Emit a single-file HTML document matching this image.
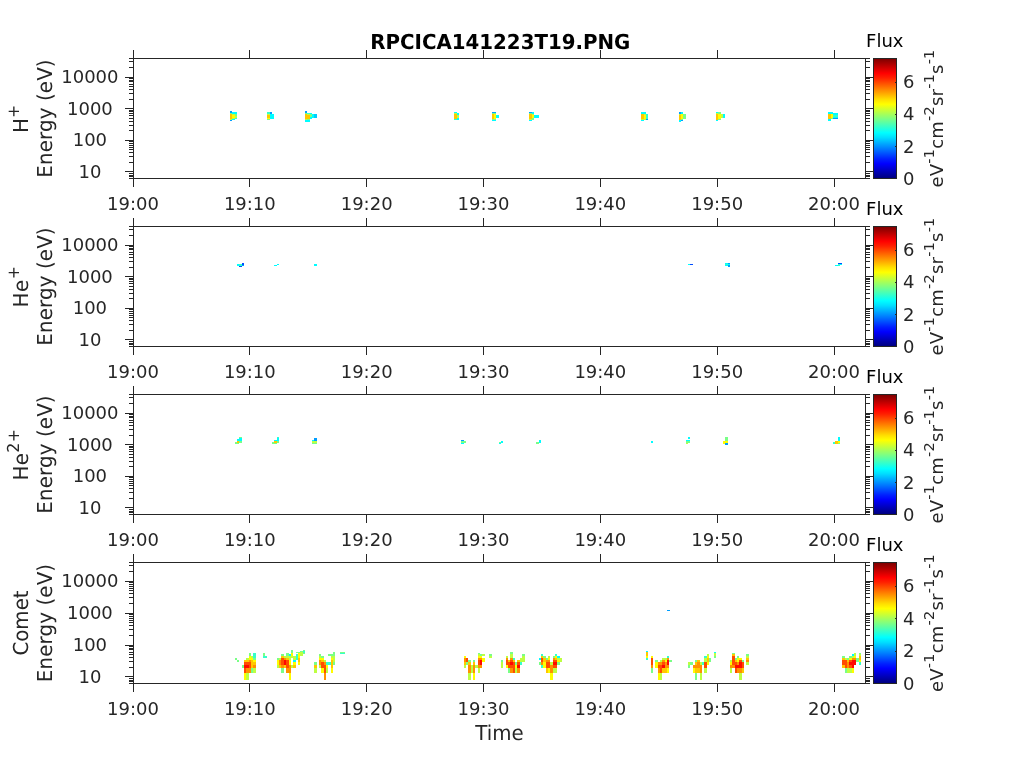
<!DOCTYPE html>
<html><head><meta charset="utf-8"><title>RPCICA141223T19</title>
<style>
html,body{margin:0;padding:0;background:#fff;}
body{width:1024px;height:768px;overflow:hidden;}
svg{display:block;position:absolute;left:0;top:0;}
text{font-family:"DejaVu Sans","Liberation Sans",sans-serif;}
</style></head><body>
<svg width="1024" height="768" viewBox="0 0 1024 768">
<defs><linearGradient id="jet" x1="0" y1="1" x2="0" y2="0"><stop offset="0" stop-color="#000080"/><stop offset="0.03" stop-color="#00009f"/><stop offset="0.06" stop-color="#0000bf"/><stop offset="0.09" stop-color="#0000df"/><stop offset="0.12" stop-color="#0000ff"/><stop offset="0.16" stop-color="#0020ff"/><stop offset="0.19" stop-color="#0040ff"/><stop offset="0.22" stop-color="#0060ff"/><stop offset="0.25" stop-color="#0080ff"/><stop offset="0.28" stop-color="#009fff"/><stop offset="0.31" stop-color="#00bfff"/><stop offset="0.34" stop-color="#00dfff"/><stop offset="0.38" stop-color="#00ffff"/><stop offset="0.41" stop-color="#20ffdf"/><stop offset="0.44" stop-color="#40ffbf"/><stop offset="0.47" stop-color="#60ff9f"/><stop offset="0.5" stop-color="#80ff80"/><stop offset="0.53" stop-color="#9fff60"/><stop offset="0.56" stop-color="#bfff40"/><stop offset="0.59" stop-color="#dfff20"/><stop offset="0.62" stop-color="#ffff00"/><stop offset="0.66" stop-color="#ffdf00"/><stop offset="0.69" stop-color="#ffbf00"/><stop offset="0.72" stop-color="#ff9f00"/><stop offset="0.75" stop-color="#ff8000"/><stop offset="0.78" stop-color="#ff6000"/><stop offset="0.81" stop-color="#ff4000"/><stop offset="0.84" stop-color="#ff2000"/><stop offset="0.88" stop-color="#ff0000"/><stop offset="0.91" stop-color="#df0000"/><stop offset="0.94" stop-color="#bf0000"/><stop offset="0.97" stop-color="#9f0000"/><stop offset="1" stop-color="#800000"/></linearGradient></defs>
<rect width="1024" height="768" fill="#fff"/>
<g shape-rendering="crispEdges">
<rect x="230.08" y="111" width="2.34" height="1.5" fill="#009eff"/>
<rect x="230.08" y="112.5" width="2.34" height="1.5" fill="#79ff86"/>
<rect x="230.08" y="114" width="2.34" height="5" fill="#ffc700"/>
<rect x="230.08" y="119" width="2.34" height="1" fill="#bdff42"/>
<rect x="230.08" y="120" width="2.34" height="1" fill="#009eff"/>
<rect x="232.42" y="112.3" width="2.34" height="1.7" fill="#00fdff"/>
<rect x="232.42" y="114" width="2.34" height="1" fill="#bdff42"/>
<rect x="232.42" y="115" width="2.34" height="3" fill="#fffd00"/>
<rect x="232.42" y="118" width="2.34" height="1" fill="#bdff42"/>
<rect x="232.42" y="119" width="2.34" height="1.2" fill="#00fdff"/>
<rect x="234.75" y="112.3" width="2.34" height="1.7" fill="#00fdff"/>
<rect x="234.75" y="114" width="2.34" height="1.5" fill="#79ff86"/>
<rect x="234.75" y="115.5" width="2.34" height="2" fill="#bdff42"/>
<rect x="234.75" y="117.5" width="2.34" height="1.5" fill="#35ffca"/>
<rect x="267.47" y="112" width="2.34" height="1.5" fill="#35ffca"/>
<rect x="267.47" y="113.5" width="2.34" height="1" fill="#bdff42"/>
<rect x="267.47" y="114.5" width="2.34" height="3.5" fill="#ffc700"/>
<rect x="267.47" y="118" width="2.34" height="1" fill="#fffd00"/>
<rect x="267.47" y="119" width="2.34" height="0.8" fill="#79ff86"/>
<rect x="269.8" y="112" width="2.34" height="2" fill="#009eff"/>
<rect x="269.8" y="114" width="2.34" height="4.5" fill="#00fdff"/>
<rect x="272.14" y="114" width="2.34" height="5" fill="#00fdff"/>
<rect x="304.85" y="111" width="2.34" height="1.5" fill="#009eff"/>
<rect x="304.85" y="112.5" width="2.34" height="1" fill="#79ff86"/>
<rect x="304.85" y="113.5" width="2.34" height="5.5" fill="#ffc700"/>
<rect x="304.85" y="119" width="2.34" height="0.8" fill="#bdff42"/>
<rect x="304.85" y="119.8" width="2.34" height="2.2" fill="#00fdff"/>
<rect x="307.19" y="112.5" width="2.34" height="1" fill="#35ffca"/>
<rect x="307.19" y="113.5" width="2.34" height="1" fill="#bdff42"/>
<rect x="307.19" y="114.5" width="2.34" height="4.5" fill="#ffc700"/>
<rect x="307.19" y="119" width="2.34" height="1" fill="#79ff86"/>
<rect x="307.19" y="120" width="2.34" height="2" fill="#00fdff"/>
<rect x="309.53" y="112.5" width="2.34" height="1.5" fill="#00fdff"/>
<rect x="309.53" y="114" width="2.34" height="3" fill="#79ff86"/>
<rect x="309.53" y="117" width="2.34" height="2" fill="#00fdff"/>
<rect x="311.86" y="113.5" width="2.34" height="4" fill="#00fdff"/>
<rect x="314.2" y="114" width="2.34" height="3.5" fill="#00ceff"/>
<rect x="454.4" y="112" width="2.34" height="1" fill="#00fdff"/>
<rect x="454.4" y="113" width="2.34" height="1" fill="#bdff42"/>
<rect x="454.4" y="114" width="2.34" height="4.5" fill="#ffc700"/>
<rect x="454.4" y="118.5" width="2.34" height="0.8" fill="#bdff42"/>
<rect x="454.4" y="119.3" width="2.34" height="0.7" fill="#35ffca"/>
<rect x="456.74" y="113" width="2.34" height="1.5" fill="#00fdff"/>
<rect x="456.74" y="114.5" width="2.34" height="3" fill="#bdff42"/>
<rect x="456.74" y="117.5" width="2.34" height="2.5" fill="#00fdff"/>
<rect x="491.79" y="112" width="2.34" height="1" fill="#009eff"/>
<rect x="491.79" y="113" width="2.34" height="1" fill="#79ff86"/>
<rect x="491.79" y="114" width="2.34" height="5" fill="#ffc700"/>
<rect x="491.79" y="119" width="2.34" height="1" fill="#79ff86"/>
<rect x="491.79" y="120" width="2.34" height="1" fill="#00fdff"/>
<rect x="494.13" y="112" width="2.34" height="1" fill="#009eff"/>
<rect x="494.13" y="113" width="2.34" height="1" fill="#79ff86"/>
<rect x="494.13" y="114" width="2.34" height="5" fill="#fffd00"/>
<rect x="494.13" y="119" width="2.34" height="1" fill="#79ff86"/>
<rect x="494.13" y="120" width="2.34" height="1" fill="#00fdff"/>
<rect x="496.46" y="115" width="2.34" height="3" fill="#00fdff"/>
<rect x="529.18" y="112" width="2.34" height="1" fill="#009eff"/>
<rect x="529.18" y="113" width="2.34" height="1" fill="#79ff86"/>
<rect x="529.18" y="114" width="2.34" height="5" fill="#ffc700"/>
<rect x="529.18" y="119" width="2.34" height="1" fill="#bdff42"/>
<rect x="529.18" y="120" width="2.34" height="1" fill="#00fdff"/>
<rect x="531.51" y="112" width="2.34" height="1.5" fill="#00fdff"/>
<rect x="531.51" y="113.5" width="2.34" height="1" fill="#bdff42"/>
<rect x="531.51" y="114.5" width="2.34" height="3.5" fill="#fffd00"/>
<rect x="531.51" y="118" width="2.34" height="1.5" fill="#79ff86"/>
<rect x="533.85" y="115" width="2.34" height="2.5" fill="#00fdff"/>
<rect x="536.19" y="115" width="2.34" height="2.5" fill="#00fdff"/>
<rect x="641.34" y="112" width="2.34" height="1.5" fill="#00fdff"/>
<rect x="641.34" y="113.5" width="2.34" height="5.5" fill="#ffc700"/>
<rect x="641.34" y="119" width="2.34" height="0.8" fill="#bdff42"/>
<rect x="641.34" y="119.8" width="2.34" height="1.2" fill="#00fdff"/>
<rect x="643.68" y="112" width="2.34" height="1.5" fill="#00fdff"/>
<rect x="643.68" y="113.5" width="2.34" height="1" fill="#bdff42"/>
<rect x="643.68" y="114.5" width="2.34" height="4" fill="#fffd00"/>
<rect x="643.68" y="118.5" width="2.34" height="1" fill="#bdff42"/>
<rect x="646.01" y="114" width="2.34" height="4.5" fill="#35ffca"/>
<rect x="646.01" y="118.5" width="2.34" height="1.5" fill="#009eff"/>
<rect x="678.73" y="112" width="2.34" height="1.5" fill="#009eff"/>
<rect x="678.73" y="113.5" width="2.34" height="1" fill="#bdff42"/>
<rect x="678.73" y="114.5" width="2.34" height="5.5" fill="#ffc700"/>
<rect x="678.73" y="120" width="2.34" height="2" fill="#00fdff"/>
<rect x="681.06" y="112" width="2.34" height="1.5" fill="#00fdff"/>
<rect x="681.06" y="113.5" width="2.34" height="5.5" fill="#fffd00"/>
<rect x="681.06" y="119" width="2.34" height="0.7" fill="#79ff86"/>
<rect x="681.06" y="119.7" width="2.34" height="1.3" fill="#009eff"/>
<rect x="683.4" y="114" width="2.34" height="5" fill="#79ff86"/>
<rect x="716.11" y="112" width="2.34" height="1" fill="#00fdff"/>
<rect x="716.11" y="113" width="2.34" height="1" fill="#bdff42"/>
<rect x="716.11" y="114" width="2.34" height="5.5" fill="#ffc700"/>
<rect x="716.11" y="119.5" width="2.34" height="1.5" fill="#00fdff"/>
<rect x="718.45" y="112" width="2.34" height="1.5" fill="#79ff86"/>
<rect x="718.45" y="113.5" width="2.34" height="5.5" fill="#fffd00"/>
<rect x="718.45" y="119" width="2.34" height="1" fill="#79ff86"/>
<rect x="720.79" y="113.5" width="2.34" height="4.5" fill="#bdff42"/>
<rect x="723.12" y="114" width="2.34" height="4" fill="#00fdff"/>
<rect x="828.27" y="112" width="2.34" height="1.5" fill="#00fdff"/>
<rect x="828.27" y="113.5" width="2.34" height="0.7" fill="#bdff42"/>
<rect x="828.27" y="114.2" width="2.34" height="4.8" fill="#ffc700"/>
<rect x="828.27" y="119" width="2.34" height="2" fill="#00fdff"/>
<rect x="830.61" y="112" width="2.34" height="1.5" fill="#00fdff"/>
<rect x="830.61" y="113.5" width="2.34" height="4.5" fill="#fffd00"/>
<rect x="830.61" y="118" width="2.34" height="1" fill="#79ff86"/>
<rect x="832.95" y="113" width="2.34" height="1.5" fill="#00fdff"/>
<rect x="832.95" y="114.5" width="2.34" height="2.5" fill="#35ffca"/>
<rect x="832.95" y="117" width="2.34" height="1" fill="#00fdff"/>
<rect x="832.95" y="118" width="2.34" height="1" fill="#009eff"/>
<rect x="835.29" y="113" width="2.34" height="1.5" fill="#00fdff"/>
<rect x="835.29" y="114.5" width="2.34" height="2.5" fill="#35ffca"/>
<rect x="835.29" y="117" width="2.34" height="1" fill="#00fdff"/>
<rect x="835.29" y="118" width="2.34" height="1" fill="#009eff"/>
<rect x="237.09" y="264" width="2.34" height="1.5" fill="#00fdff"/>
<rect x="239.43" y="264" width="2.34" height="1.5" fill="#35ffca"/>
<rect x="239.43" y="265.5" width="2.34" height="1.5" fill="#004dff"/>
<rect x="241.76" y="263" width="2.34" height="1.5" fill="#004dff"/>
<rect x="241.76" y="264.5" width="2.34" height="1.5" fill="#009eff"/>
<rect x="274.48" y="265" width="2.34" height="1.2" fill="#00fdff"/>
<rect x="276.81" y="264" width="2.34" height="1.2" fill="#00fdff"/>
<rect x="314.2" y="264" width="2.34" height="2" fill="#00fdff"/>
<rect x="688.07" y="263.8" width="2.34" height="1.4" fill="#00fdff"/>
<rect x="690.41" y="263.8" width="2.34" height="1.4" fill="#004dff"/>
<rect x="725.46" y="263" width="2.34" height="1" fill="#00fdff"/>
<rect x="725.46" y="264" width="2.34" height="1" fill="#35ffca"/>
<rect x="725.46" y="265" width="2.34" height="1" fill="#00fdff"/>
<rect x="727.8" y="263" width="2.34" height="1" fill="#009eff"/>
<rect x="727.8" y="264" width="2.34" height="1" fill="#00fdff"/>
<rect x="727.8" y="265" width="2.34" height="2" fill="#009eff"/>
<rect x="835.29" y="264.5" width="2.34" height="1.5" fill="#00fdff"/>
<rect x="837.62" y="263" width="2.34" height="1" fill="#004dff"/>
<rect x="837.62" y="264" width="2.34" height="1.5" fill="#35ffca"/>
<rect x="837.62" y="265.5" width="2.34" height="0.5" fill="#00fdff"/>
<rect x="839.96" y="263" width="2.34" height="1" fill="#004dff"/>
<rect x="839.96" y="264" width="2.34" height="1" fill="#00fdff"/>
<rect x="234.75" y="441.5" width="2.34" height="2.5" fill="#79ff86"/>
<rect x="237.09" y="439" width="2.34" height="2" fill="#00fdff"/>
<rect x="237.09" y="441" width="2.34" height="2" fill="#ffc700"/>
<rect x="237.09" y="443" width="2.34" height="1" fill="#79ff86"/>
<rect x="239.43" y="437" width="2.34" height="1" fill="#79ff86"/>
<rect x="239.43" y="438" width="2.34" height="3" fill="#00fdff"/>
<rect x="239.43" y="441" width="2.34" height="2" fill="#79ff86"/>
<rect x="272.14" y="441.5" width="2.34" height="2.5" fill="#79ff86"/>
<rect x="274.48" y="439.5" width="2.34" height="1.5" fill="#00fdff"/>
<rect x="274.48" y="441" width="2.34" height="2" fill="#ffc700"/>
<rect x="274.48" y="443" width="2.34" height="1" fill="#79ff86"/>
<rect x="276.81" y="437" width="2.34" height="1" fill="#35ffca"/>
<rect x="276.81" y="438" width="2.34" height="3" fill="#00fdff"/>
<rect x="276.81" y="441" width="2.34" height="2" fill="#79ff86"/>
<rect x="311.86" y="440" width="2.34" height="1" fill="#00fdff"/>
<rect x="311.86" y="441" width="2.34" height="2" fill="#bdff42"/>
<rect x="311.86" y="443" width="2.34" height="1" fill="#79ff86"/>
<rect x="314.2" y="438" width="2.34" height="2.5" fill="#009eff"/>
<rect x="314.2" y="440.5" width="2.34" height="2.5" fill="#bdff42"/>
<rect x="314.2" y="443" width="2.34" height="1" fill="#79ff86"/>
<rect x="461.41" y="440" width="2.34" height="1" fill="#009eff"/>
<rect x="461.41" y="441" width="2.34" height="2" fill="#79ff86"/>
<rect x="461.41" y="443" width="2.34" height="1" fill="#00fdff"/>
<rect x="463.75" y="440.5" width="2.34" height="2.5" fill="#79ff86"/>
<rect x="498.8" y="441.5" width="2.34" height="1.5" fill="#79ff86"/>
<rect x="498.8" y="443" width="2.34" height="1" fill="#00fdff"/>
<rect x="501.14" y="441" width="2.34" height="1.5" fill="#00fdff"/>
<rect x="536.19" y="441.5" width="2.34" height="2.5" fill="#79ff86"/>
<rect x="538.52" y="440" width="2.34" height="3" fill="#00fdff"/>
<rect x="650.69" y="441.3" width="2.34" height="1.7" fill="#00fdff"/>
<rect x="685.74" y="440" width="2.34" height="1" fill="#00fdff"/>
<rect x="685.74" y="441" width="2.34" height="2" fill="#79ff86"/>
<rect x="685.74" y="443" width="2.34" height="1" fill="#bdff42"/>
<rect x="688.07" y="437" width="2.34" height="1.5" fill="#00fdff"/>
<rect x="688.07" y="440" width="2.34" height="1" fill="#00fdff"/>
<rect x="688.07" y="441" width="2.34" height="2" fill="#79ff86"/>
<rect x="723.12" y="441" width="2.34" height="2.5" fill="#fffd00"/>
<rect x="723.12" y="443.5" width="2.34" height="0.5" fill="#79ff86"/>
<rect x="725.46" y="437" width="2.34" height="4" fill="#79ff86"/>
<rect x="725.46" y="441" width="2.34" height="2" fill="#fffd00"/>
<rect x="725.46" y="443" width="2.34" height="1.5" fill="#009eff"/>
<rect x="832.95" y="441.5" width="2.34" height="2.5" fill="#35ffca"/>
<rect x="835.29" y="441" width="2.34" height="2.5" fill="#ffc700"/>
<rect x="835.29" y="443.5" width="2.34" height="0.5" fill="#79ff86"/>
<rect x="837.62" y="437" width="2.34" height="3.5" fill="#00fdff"/>
<rect x="837.62" y="440.5" width="2.34" height="2.5" fill="#fffd00"/>
<rect x="837.62" y="443" width="2.34" height="1" fill="#79ff86"/>
<rect x="234.75" y="657.8" width="2.34" height="2.1" fill="#79ff86"/>
<rect x="237.09" y="659.9" width="2.34" height="2.1" fill="#79ff86"/>
<rect x="241.76" y="664.8" width="2.34" height="3.6" fill="#79ff86"/>
<rect x="244.1" y="672.9" width="2.34" height="7.2" fill="#fffd00"/>
<rect x="244.1" y="668.4" width="2.34" height="4.5" fill="#ff4c00"/>
<rect x="244.1" y="664.8" width="2.34" height="3.6" fill="#ff0800"/>
<rect x="244.1" y="662" width="2.34" height="2.8" fill="#ff4c00"/>
<rect x="244.1" y="659.9" width="2.34" height="2.1" fill="#ffc700"/>
<rect x="246.44" y="672.9" width="2.34" height="7.2" fill="#bdff42"/>
<rect x="246.44" y="668.4" width="2.34" height="4.5" fill="#ff9100"/>
<rect x="246.44" y="664.8" width="2.34" height="3.6" fill="#ff0800"/>
<rect x="246.44" y="662" width="2.34" height="2.8" fill="#ff4c00"/>
<rect x="246.44" y="659.9" width="2.34" height="2.1" fill="#ffc700"/>
<rect x="246.44" y="657.8" width="2.34" height="2.1" fill="#bdff42"/>
<rect x="248.77" y="668.4" width="2.34" height="4.5" fill="#ff9100"/>
<rect x="248.77" y="664.8" width="2.34" height="3.6" fill="#ff4c00"/>
<rect x="248.77" y="662" width="2.34" height="2.8" fill="#ff4c00"/>
<rect x="248.77" y="659.9" width="2.34" height="2.1" fill="#ff9100"/>
<rect x="248.77" y="657.8" width="2.34" height="2.1" fill="#fffd00"/>
<rect x="248.77" y="656" width="2.34" height="1.8" fill="#fffd00"/>
<rect x="248.77" y="654.4" width="2.34" height="1.6" fill="#79ff86"/>
<rect x="248.77" y="653" width="2.34" height="1.4" fill="#79ff86"/>
<rect x="251.11" y="668.4" width="2.34" height="4.5" fill="#79ff86"/>
<rect x="251.11" y="664.8" width="2.34" height="3.6" fill="#ffc700"/>
<rect x="251.11" y="662" width="2.34" height="2.8" fill="#ffc700"/>
<rect x="251.11" y="659.9" width="2.34" height="2.1" fill="#ffc700"/>
<rect x="251.11" y="657.8" width="2.34" height="2.1" fill="#fffd00"/>
<rect x="251.11" y="656" width="2.34" height="1.8" fill="#bdff42"/>
<rect x="253.45" y="668.4" width="2.34" height="4.5" fill="#bdff42"/>
<rect x="253.45" y="664.8" width="2.34" height="3.6" fill="#ff9100"/>
<rect x="253.45" y="662" width="2.34" height="2.8" fill="#ffc700"/>
<rect x="253.45" y="659.9" width="2.34" height="2.1" fill="#fffd00"/>
<rect x="253.45" y="657.8" width="2.34" height="2.1" fill="#79ff86"/>
<rect x="253.45" y="656" width="2.34" height="1.8" fill="#35ffca"/>
<rect x="253.45" y="654.4" width="2.34" height="1.6" fill="#35ffca"/>
<rect x="253.45" y="653" width="2.34" height="1.4" fill="#35ffca"/>
<rect x="262.79" y="656" width="2.34" height="1.8" fill="#35ffca"/>
<rect x="262.79" y="654.4" width="2.34" height="1.6" fill="#79ff86"/>
<rect x="262.79" y="653" width="2.34" height="1.4" fill="#79ff86"/>
<rect x="265.13" y="656" width="2.34" height="1.8" fill="#35ffca"/>
<rect x="276.81" y="664.8" width="2.34" height="3.6" fill="#bdff42"/>
<rect x="276.81" y="662" width="2.34" height="2.8" fill="#fffd00"/>
<rect x="276.81" y="659.9" width="2.34" height="2.1" fill="#fffd00"/>
<rect x="276.81" y="657.8" width="2.34" height="2.1" fill="#79ff86"/>
<rect x="279.15" y="664.8" width="2.34" height="3.6" fill="#ffc700"/>
<rect x="279.15" y="662" width="2.34" height="2.8" fill="#ff9100"/>
<rect x="279.15" y="659.9" width="2.34" height="2.1" fill="#ff9100"/>
<rect x="279.15" y="657.8" width="2.34" height="2.1" fill="#bdff42"/>
<rect x="281.49" y="668.4" width="2.34" height="4.5" fill="#79ff86"/>
<rect x="281.49" y="664.8" width="2.34" height="3.6" fill="#ff9100"/>
<rect x="281.49" y="662" width="2.34" height="2.8" fill="#ff4c00"/>
<rect x="281.49" y="659.9" width="2.34" height="2.1" fill="#ff4c00"/>
<rect x="281.49" y="657.8" width="2.34" height="2.1" fill="#ff4c00"/>
<rect x="281.49" y="656" width="2.34" height="1.8" fill="#ffc700"/>
<rect x="281.49" y="654.4" width="2.34" height="1.6" fill="#79ff86"/>
<rect x="283.82" y="664.8" width="2.34" height="3.6" fill="#ffc700"/>
<rect x="283.82" y="662" width="2.34" height="2.8" fill="#ff0800"/>
<rect x="283.82" y="659.9" width="2.34" height="2.1" fill="#ff0800"/>
<rect x="283.82" y="657.8" width="2.34" height="2.1" fill="#ff9100"/>
<rect x="283.82" y="656" width="2.34" height="1.8" fill="#bdff42"/>
<rect x="286.16" y="668.4" width="2.34" height="4.5" fill="#ff9100"/>
<rect x="286.16" y="664.8" width="2.34" height="3.6" fill="#ff4c00"/>
<rect x="286.16" y="662" width="2.34" height="2.8" fill="#ff4c00"/>
<rect x="286.16" y="659.9" width="2.34" height="2.1" fill="#ff4c00"/>
<rect x="286.16" y="657.8" width="2.34" height="2.1" fill="#ffc700"/>
<rect x="286.16" y="656" width="2.34" height="1.8" fill="#bdff42"/>
<rect x="286.16" y="654.4" width="2.34" height="1.6" fill="#79ff86"/>
<rect x="286.16" y="653" width="2.34" height="1.4" fill="#79ff86"/>
<rect x="288.5" y="672.9" width="2.34" height="7.2" fill="#fffd00"/>
<rect x="288.5" y="668.4" width="2.34" height="4.5" fill="#ff9100"/>
<rect x="288.5" y="664.8" width="2.34" height="3.6" fill="#ff9100"/>
<rect x="288.5" y="662" width="2.34" height="2.8" fill="#fffd00"/>
<rect x="288.5" y="659.9" width="2.34" height="2.1" fill="#fffd00"/>
<rect x="288.5" y="657.8" width="2.34" height="2.1" fill="#bdff42"/>
<rect x="288.5" y="656" width="2.34" height="1.8" fill="#bdff42"/>
<rect x="288.5" y="654.4" width="2.34" height="1.6" fill="#00fdff"/>
<rect x="290.83" y="664.8" width="2.34" height="3.6" fill="#bdff42"/>
<rect x="290.83" y="656" width="2.34" height="1.8" fill="#bdff42"/>
<rect x="290.83" y="654.4" width="2.34" height="1.6" fill="#fffd00"/>
<rect x="290.83" y="653" width="2.34" height="1.4" fill="#fffd00"/>
<rect x="290.83" y="651.8" width="2.34" height="1.2" fill="#79ff86"/>
<rect x="290.83" y="650.8" width="2.34" height="1" fill="#79ff86"/>
<rect x="290.83" y="649.5" width="2.34" height="1.3" fill="#79ff86"/>
<rect x="293.17" y="664.8" width="2.34" height="3.6" fill="#ffc700"/>
<rect x="293.17" y="662" width="2.34" height="2.8" fill="#fffd00"/>
<rect x="293.17" y="659.9" width="2.34" height="2.1" fill="#00fdff"/>
<rect x="293.17" y="657.8" width="2.34" height="2.1" fill="#bdff42"/>
<rect x="293.17" y="656" width="2.34" height="1.8" fill="#bdff42"/>
<rect x="295.51" y="657.8" width="2.34" height="2.1" fill="#35ffca"/>
<rect x="295.51" y="656" width="2.34" height="1.8" fill="#35ffca"/>
<rect x="295.51" y="654.4" width="2.34" height="1.6" fill="#35ffca"/>
<rect x="295.51" y="651.8" width="2.34" height="1.2" fill="#79ff86"/>
<rect x="297.84" y="662" width="2.34" height="2.8" fill="#fffd00"/>
<rect x="297.84" y="659.9" width="2.34" height="2.1" fill="#ffc700"/>
<rect x="297.84" y="657.8" width="2.34" height="2.1" fill="#ffc700"/>
<rect x="297.84" y="656" width="2.34" height="1.8" fill="#fffd00"/>
<rect x="297.84" y="654.4" width="2.34" height="1.6" fill="#fffd00"/>
<rect x="297.84" y="653" width="2.34" height="1.4" fill="#fffd00"/>
<rect x="297.84" y="651.8" width="2.34" height="1.2" fill="#79ff86"/>
<rect x="300.18" y="654.4" width="2.34" height="1.6" fill="#bdff42"/>
<rect x="300.18" y="653" width="2.34" height="1.4" fill="#bdff42"/>
<rect x="300.18" y="651.8" width="2.34" height="1.2" fill="#bdff42"/>
<rect x="300.18" y="650.8" width="2.34" height="1" fill="#79ff86"/>
<rect x="302.52" y="653" width="2.34" height="1.4" fill="#79ff86"/>
<rect x="302.52" y="651.8" width="2.34" height="1.2" fill="#35ffca"/>
<rect x="302.52" y="650.8" width="2.34" height="1" fill="#35ffca"/>
<rect x="302.52" y="649.5" width="2.34" height="1.3" fill="#79ff86"/>
<rect x="314.2" y="668.4" width="2.34" height="4.5" fill="#bdff42"/>
<rect x="314.2" y="664.8" width="2.34" height="3.6" fill="#ffc700"/>
<rect x="314.2" y="662" width="2.34" height="2.8" fill="#79ff86"/>
<rect x="318.87" y="664.8" width="2.34" height="3.6" fill="#bdff42"/>
<rect x="318.87" y="662" width="2.34" height="2.8" fill="#ff9100"/>
<rect x="318.87" y="659.9" width="2.34" height="2.1" fill="#ff9100"/>
<rect x="318.87" y="657.8" width="2.34" height="2.1" fill="#fffd00"/>
<rect x="318.87" y="656" width="2.34" height="1.8" fill="#bdff42"/>
<rect x="318.87" y="654.4" width="2.34" height="1.6" fill="#79ff86"/>
<rect x="321.21" y="668.4" width="2.34" height="4.5" fill="#fffd00"/>
<rect x="321.21" y="664.8" width="2.34" height="3.6" fill="#ff4c00"/>
<rect x="321.21" y="662" width="2.34" height="2.8" fill="#ff4c00"/>
<rect x="321.21" y="659.9" width="2.34" height="2.1" fill="#ffc700"/>
<rect x="321.21" y="657.8" width="2.34" height="2.1" fill="#fffd00"/>
<rect x="321.21" y="656" width="2.34" height="1.8" fill="#79ff86"/>
<rect x="323.55" y="672.9" width="2.34" height="7.2" fill="#ff9100"/>
<rect x="323.55" y="668.4" width="2.34" height="4.5" fill="#ff4c00"/>
<rect x="323.55" y="664.8" width="2.34" height="3.6" fill="#ff4c00"/>
<rect x="323.55" y="662" width="2.34" height="2.8" fill="#ff9100"/>
<rect x="323.55" y="659.9" width="2.34" height="2.1" fill="#bdff42"/>
<rect x="325.88" y="668.4" width="2.34" height="4.5" fill="#bdff42"/>
<rect x="325.88" y="664.8" width="2.34" height="3.6" fill="#fffd00"/>
<rect x="325.88" y="662" width="2.34" height="2.8" fill="#35ffca"/>
<rect x="328.22" y="662" width="2.34" height="2.8" fill="#35ffca"/>
<rect x="328.22" y="654.4" width="2.34" height="1.6" fill="#79ff86"/>
<rect x="330.56" y="668.4" width="2.34" height="4.5" fill="#fffd00"/>
<rect x="330.56" y="664.8" width="2.34" height="3.6" fill="#ffc700"/>
<rect x="330.56" y="662" width="2.34" height="2.8" fill="#ffc700"/>
<rect x="330.56" y="659.9" width="2.34" height="2.1" fill="#ffc700"/>
<rect x="330.56" y="657.8" width="2.34" height="2.1" fill="#fffd00"/>
<rect x="330.56" y="656" width="2.34" height="1.8" fill="#bdff42"/>
<rect x="330.56" y="654.4" width="2.34" height="1.6" fill="#79ff86"/>
<rect x="332.89" y="662" width="2.34" height="2.8" fill="#79ff86"/>
<rect x="332.89" y="659.9" width="2.34" height="2.1" fill="#bdff42"/>
<rect x="332.89" y="657.8" width="2.34" height="2.1" fill="#bdff42"/>
<rect x="332.89" y="656" width="2.34" height="1.8" fill="#bdff42"/>
<rect x="332.89" y="654.4" width="2.34" height="1.6" fill="#79ff86"/>
<rect x="332.89" y="653" width="2.34" height="1.4" fill="#79ff86"/>
<rect x="332.89" y="651.8" width="2.34" height="1.2" fill="#79ff86"/>
<rect x="339.9" y="653" width="2.34" height="1.4" fill="#35ffca"/>
<rect x="339.9" y="651.8" width="2.34" height="1.2" fill="#79ff86"/>
<rect x="342.24" y="653" width="2.34" height="1.4" fill="#35ffca"/>
<rect x="342.24" y="651.8" width="2.34" height="1.2" fill="#79ff86"/>
<rect x="463.75" y="664.8" width="2.34" height="3.6" fill="#bdff42"/>
<rect x="463.75" y="662" width="2.34" height="2.8" fill="#ffc700"/>
<rect x="463.75" y="659.9" width="2.34" height="2.1" fill="#ff9100"/>
<rect x="463.75" y="657.8" width="2.34" height="2.1" fill="#ff9100"/>
<rect x="463.75" y="656" width="2.34" height="1.8" fill="#fffd00"/>
<rect x="466.09" y="662" width="2.34" height="2.8" fill="#79ff86"/>
<rect x="466.09" y="659.9" width="2.34" height="2.1" fill="#ff4c00"/>
<rect x="466.09" y="657.8" width="2.34" height="2.1" fill="#ff4c00"/>
<rect x="468.42" y="672.9" width="2.34" height="7.2" fill="#bdff42"/>
<rect x="468.42" y="668.4" width="2.34" height="4.5" fill="#ff9100"/>
<rect x="468.42" y="664.8" width="2.34" height="3.6" fill="#ff9100"/>
<rect x="468.42" y="662" width="2.34" height="2.8" fill="#ffc700"/>
<rect x="468.42" y="659.9" width="2.34" height="2.1" fill="#79ff86"/>
<rect x="470.76" y="668.4" width="2.34" height="4.5" fill="#bdff42"/>
<rect x="470.76" y="664.8" width="2.34" height="3.6" fill="#bdff42"/>
<rect x="473.1" y="672.9" width="2.34" height="7.2" fill="#fffd00"/>
<rect x="473.1" y="668.4" width="2.34" height="4.5" fill="#ff9100"/>
<rect x="473.1" y="664.8" width="2.34" height="3.6" fill="#ff9100"/>
<rect x="473.1" y="662" width="2.34" height="2.8" fill="#ffc700"/>
<rect x="473.1" y="659.9" width="2.34" height="2.1" fill="#79ff86"/>
<rect x="475.43" y="664.8" width="2.34" height="3.6" fill="#bdff42"/>
<rect x="477.77" y="668.4" width="2.34" height="4.5" fill="#bdff42"/>
<rect x="477.77" y="664.8" width="2.34" height="3.6" fill="#ff9100"/>
<rect x="477.77" y="662" width="2.34" height="2.8" fill="#ff4c00"/>
<rect x="477.77" y="659.9" width="2.34" height="2.1" fill="#ff4c00"/>
<rect x="477.77" y="657.8" width="2.34" height="2.1" fill="#ff9100"/>
<rect x="477.77" y="656" width="2.34" height="1.8" fill="#fffd00"/>
<rect x="477.77" y="654.4" width="2.34" height="1.6" fill="#bdff42"/>
<rect x="477.77" y="653" width="2.34" height="1.4" fill="#79ff86"/>
<rect x="480.11" y="664.8" width="2.34" height="3.6" fill="#ff9100"/>
<rect x="480.11" y="662" width="2.34" height="2.8" fill="#ff0800"/>
<rect x="480.11" y="659.9" width="2.34" height="2.1" fill="#ff0800"/>
<rect x="480.11" y="657.8" width="2.34" height="2.1" fill="#ff9100"/>
<rect x="480.11" y="656" width="2.34" height="1.8" fill="#fffd00"/>
<rect x="480.11" y="654.4" width="2.34" height="1.6" fill="#79ff86"/>
<rect x="482.44" y="659.9" width="2.34" height="2.1" fill="#fffd00"/>
<rect x="482.44" y="657.8" width="2.34" height="2.1" fill="#fffd00"/>
<rect x="482.44" y="654.4" width="2.34" height="1.6" fill="#bdff42"/>
<rect x="489.45" y="656" width="2.34" height="1.8" fill="#bdff42"/>
<rect x="489.45" y="654.4" width="2.34" height="1.6" fill="#79ff86"/>
<rect x="501.14" y="664.8" width="2.34" height="3.6" fill="#bdff42"/>
<rect x="501.14" y="662" width="2.34" height="2.8" fill="#bdff42"/>
<rect x="501.14" y="659.9" width="2.34" height="2.1" fill="#79ff86"/>
<rect x="505.81" y="664.8" width="2.34" height="3.6" fill="#fffd00"/>
<rect x="505.81" y="662" width="2.34" height="2.8" fill="#ff4c00"/>
<rect x="505.81" y="659.9" width="2.34" height="2.1" fill="#ff4c00"/>
<rect x="505.81" y="657.8" width="2.34" height="2.1" fill="#ff9100"/>
<rect x="505.81" y="656" width="2.34" height="1.8" fill="#bdff42"/>
<rect x="508.15" y="668.4" width="2.34" height="4.5" fill="#79ff86"/>
<rect x="508.15" y="664.8" width="2.34" height="3.6" fill="#ff4c00"/>
<rect x="508.15" y="662" width="2.34" height="2.8" fill="#ff4c00"/>
<rect x="508.15" y="659.9" width="2.34" height="2.1" fill="#ffc700"/>
<rect x="510.48" y="668.4" width="2.34" height="4.5" fill="#ff9100"/>
<rect x="510.48" y="664.8" width="2.34" height="3.6" fill="#ff4c00"/>
<rect x="510.48" y="662" width="2.34" height="2.8" fill="#ff0800"/>
<rect x="510.48" y="659.9" width="2.34" height="2.1" fill="#ff4c00"/>
<rect x="510.48" y="657.8" width="2.34" height="2.1" fill="#ff9100"/>
<rect x="510.48" y="656" width="2.34" height="1.8" fill="#bdff42"/>
<rect x="510.48" y="654.4" width="2.34" height="1.6" fill="#bdff42"/>
<rect x="510.48" y="653" width="2.34" height="1.4" fill="#79ff86"/>
<rect x="510.48" y="651.8" width="2.34" height="1.2" fill="#79ff86"/>
<rect x="512.82" y="668.4" width="2.34" height="4.5" fill="#ff4c00"/>
<rect x="512.82" y="664.8" width="2.34" height="3.6" fill="#ff4c00"/>
<rect x="512.82" y="662" width="2.34" height="2.8" fill="#ff4c00"/>
<rect x="512.82" y="659.9" width="2.34" height="2.1" fill="#ffc700"/>
<rect x="512.82" y="657.8" width="2.34" height="2.1" fill="#35ffca"/>
<rect x="515.16" y="668.4" width="2.34" height="4.5" fill="#bdff42"/>
<rect x="515.16" y="664.8" width="2.34" height="3.6" fill="#fffd00"/>
<rect x="515.16" y="662" width="2.34" height="2.8" fill="#79ff86"/>
<rect x="517.49" y="668.4" width="2.34" height="4.5" fill="#ff9100"/>
<rect x="517.49" y="664.8" width="2.34" height="3.6" fill="#ff0800"/>
<rect x="517.49" y="662" width="2.34" height="2.8" fill="#ff4c00"/>
<rect x="517.49" y="659.9" width="2.34" height="2.1" fill="#ffc700"/>
<rect x="519.83" y="662" width="2.34" height="2.8" fill="#35ffca"/>
<rect x="519.83" y="659.9" width="2.34" height="2.1" fill="#bdff42"/>
<rect x="519.83" y="657.8" width="2.34" height="2.1" fill="#bdff42"/>
<rect x="522.17" y="659.9" width="2.34" height="2.1" fill="#bdff42"/>
<rect x="522.17" y="657.8" width="2.34" height="2.1" fill="#bdff42"/>
<rect x="522.17" y="656" width="2.34" height="1.8" fill="#bdff42"/>
<rect x="522.17" y="654.4" width="2.34" height="1.6" fill="#79ff86"/>
<rect x="538.52" y="662" width="2.34" height="2.8" fill="#79ff86"/>
<rect x="538.52" y="657.8" width="2.34" height="2.1" fill="#00fdff"/>
<rect x="540.86" y="664.8" width="2.34" height="3.6" fill="#35ffca"/>
<rect x="540.86" y="662" width="2.34" height="2.8" fill="#ff9100"/>
<rect x="540.86" y="659.9" width="2.34" height="2.1" fill="#ff4c00"/>
<rect x="540.86" y="657.8" width="2.34" height="2.1" fill="#ff4c00"/>
<rect x="540.86" y="656" width="2.34" height="1.8" fill="#ffc700"/>
<rect x="540.86" y="654.4" width="2.34" height="1.6" fill="#35ffca"/>
<rect x="543.2" y="664.8" width="2.34" height="3.6" fill="#fffd00"/>
<rect x="543.2" y="662" width="2.34" height="2.8" fill="#fffd00"/>
<rect x="543.2" y="659.9" width="2.34" height="2.1" fill="#ffc700"/>
<rect x="543.2" y="657.8" width="2.34" height="2.1" fill="#ffc700"/>
<rect x="543.2" y="656" width="2.34" height="1.8" fill="#79ff86"/>
<rect x="545.53" y="668.4" width="2.34" height="4.5" fill="#ffc700"/>
<rect x="545.53" y="664.8" width="2.34" height="3.6" fill="#ff4c00"/>
<rect x="545.53" y="662" width="2.34" height="2.8" fill="#ff4c00"/>
<rect x="545.53" y="659.9" width="2.34" height="2.1" fill="#ff9100"/>
<rect x="545.53" y="657.8" width="2.34" height="2.1" fill="#79ff86"/>
<rect x="547.87" y="668.4" width="2.34" height="4.5" fill="#fffd00"/>
<rect x="547.87" y="664.8" width="2.34" height="3.6" fill="#ff4c00"/>
<rect x="547.87" y="662" width="2.34" height="2.8" fill="#ff4c00"/>
<rect x="547.87" y="659.9" width="2.34" height="2.1" fill="#ff9100"/>
<rect x="547.87" y="657.8" width="2.34" height="2.1" fill="#fffd00"/>
<rect x="547.87" y="656" width="2.34" height="1.8" fill="#bdff42"/>
<rect x="550.21" y="672.9" width="2.34" height="7.2" fill="#fffd00"/>
<rect x="550.21" y="668.4" width="2.34" height="4.5" fill="#ff9100"/>
<rect x="550.21" y="664.8" width="2.34" height="3.6" fill="#ff9100"/>
<rect x="550.21" y="662" width="2.34" height="2.8" fill="#bdff42"/>
<rect x="552.54" y="668.4" width="2.34" height="4.5" fill="#bdff42"/>
<rect x="552.54" y="664.8" width="2.34" height="3.6" fill="#ff4c00"/>
<rect x="552.54" y="662" width="2.34" height="2.8" fill="#ff0800"/>
<rect x="552.54" y="659.9" width="2.34" height="2.1" fill="#ff4c00"/>
<rect x="552.54" y="657.8" width="2.34" height="2.1" fill="#ff9100"/>
<rect x="552.54" y="656" width="2.34" height="1.8" fill="#79ff86"/>
<rect x="554.88" y="668.4" width="2.34" height="4.5" fill="#bdff42"/>
<rect x="554.88" y="664.8" width="2.34" height="3.6" fill="#ff4c00"/>
<rect x="554.88" y="662" width="2.34" height="2.8" fill="#ff0800"/>
<rect x="554.88" y="659.9" width="2.34" height="2.1" fill="#ff4c00"/>
<rect x="554.88" y="657.8" width="2.34" height="2.1" fill="#ffc700"/>
<rect x="554.88" y="656" width="2.34" height="1.8" fill="#fffd00"/>
<rect x="554.88" y="654.4" width="2.34" height="1.6" fill="#35ffca"/>
<rect x="557.22" y="662" width="2.34" height="2.8" fill="#79ff86"/>
<rect x="557.22" y="659.9" width="2.34" height="2.1" fill="#fffd00"/>
<rect x="557.22" y="657.8" width="2.34" height="2.1" fill="#bdff42"/>
<rect x="557.22" y="656" width="2.34" height="1.8" fill="#00fdff"/>
<rect x="559.55" y="659.9" width="2.34" height="2.1" fill="#bdff42"/>
<rect x="559.55" y="657.8" width="2.34" height="2.1" fill="#bdff42"/>
<rect x="646.01" y="657.8" width="2.34" height="2.1" fill="#35ffca"/>
<rect x="646.01" y="656" width="2.34" height="1.8" fill="#fffd00"/>
<rect x="646.01" y="654.4" width="2.34" height="1.6" fill="#ffc700"/>
<rect x="646.01" y="653" width="2.34" height="1.4" fill="#ffc700"/>
<rect x="646.01" y="651.8" width="2.34" height="1.2" fill="#ffc700"/>
<rect x="646.01" y="650.8" width="2.34" height="1" fill="#00fdff"/>
<rect x="650.69" y="668.4" width="2.34" height="4.5" fill="#79ff86"/>
<rect x="650.69" y="664.8" width="2.34" height="3.6" fill="#ff9100"/>
<rect x="650.69" y="662" width="2.34" height="2.8" fill="#ff4c00"/>
<rect x="650.69" y="659.9" width="2.34" height="2.1" fill="#ff4c00"/>
<rect x="650.69" y="657.8" width="2.34" height="2.1" fill="#ff4c00"/>
<rect x="650.69" y="656" width="2.34" height="1.8" fill="#fffd00"/>
<rect x="655.36" y="664.8" width="2.34" height="3.6" fill="#fffd00"/>
<rect x="655.36" y="662" width="2.34" height="2.8" fill="#fffd00"/>
<rect x="655.36" y="659.9" width="2.34" height="2.1" fill="#79ff86"/>
<rect x="657.7" y="672.9" width="2.34" height="7.2" fill="#fffd00"/>
<rect x="657.7" y="668.4" width="2.34" height="4.5" fill="#ff9100"/>
<rect x="657.7" y="664.8" width="2.34" height="3.6" fill="#ff4c00"/>
<rect x="657.7" y="662" width="2.34" height="2.8" fill="#ff9100"/>
<rect x="660.03" y="672.9" width="2.34" height="7.2" fill="#bdff42"/>
<rect x="660.03" y="668.4" width="2.34" height="4.5" fill="#ff4c00"/>
<rect x="660.03" y="664.8" width="2.34" height="3.6" fill="#ff4c00"/>
<rect x="660.03" y="662" width="2.34" height="2.8" fill="#ff9100"/>
<rect x="660.03" y="659.9" width="2.34" height="2.1" fill="#bdff42"/>
<rect x="662.37" y="668.4" width="2.34" height="4.5" fill="#ffc700"/>
<rect x="662.37" y="664.8" width="2.34" height="3.6" fill="#ff0800"/>
<rect x="662.37" y="662" width="2.34" height="2.8" fill="#ff4c00"/>
<rect x="662.37" y="659.9" width="2.34" height="2.1" fill="#ff9100"/>
<rect x="662.37" y="657.8" width="2.34" height="2.1" fill="#bdff42"/>
<rect x="664.71" y="668.4" width="2.34" height="4.5" fill="#ffc700"/>
<rect x="664.71" y="664.8" width="2.34" height="3.6" fill="#ff9100"/>
<rect x="664.71" y="662" width="2.34" height="2.8" fill="#ff9100"/>
<rect x="664.71" y="659.9" width="2.34" height="2.1" fill="#fffd00"/>
<rect x="664.71" y="657.8" width="2.34" height="2.1" fill="#bdff42"/>
<rect x="667.04" y="668.4" width="2.34" height="4.5" fill="#fffd00"/>
<rect x="667.04" y="664.8" width="2.34" height="3.6" fill="#ff9100"/>
<rect x="667.04" y="662" width="2.34" height="2.8" fill="#ff0800"/>
<rect x="667.04" y="659.9" width="2.34" height="2.1" fill="#ff0800"/>
<rect x="667.04" y="657.8" width="2.34" height="2.1" fill="#ff9100"/>
<rect x="667.04" y="656" width="2.34" height="1.8" fill="#35ffca"/>
<rect x="669.38" y="659.9" width="2.34" height="2.1" fill="#79ff86"/>
<rect x="688.07" y="664.8" width="2.34" height="3.6" fill="#79ff86"/>
<rect x="688.07" y="662" width="2.34" height="2.8" fill="#bdff42"/>
<rect x="690.41" y="662" width="2.34" height="2.8" fill="#79ff86"/>
<rect x="692.75" y="668.4" width="2.34" height="4.5" fill="#fffd00"/>
<rect x="692.75" y="664.8" width="2.34" height="3.6" fill="#ff9100"/>
<rect x="695.08" y="672.9" width="2.34" height="7.2" fill="#79ff86"/>
<rect x="695.08" y="668.4" width="2.34" height="4.5" fill="#ffc700"/>
<rect x="695.08" y="664.8" width="2.34" height="3.6" fill="#ff9100"/>
<rect x="695.08" y="662" width="2.34" height="2.8" fill="#ffc700"/>
<rect x="695.08" y="659.9" width="2.34" height="2.1" fill="#79ff86"/>
<rect x="697.42" y="668.4" width="2.34" height="4.5" fill="#ffc700"/>
<rect x="697.42" y="664.8" width="2.34" height="3.6" fill="#ff9100"/>
<rect x="697.42" y="662" width="2.34" height="2.8" fill="#ff9100"/>
<rect x="697.42" y="659.9" width="2.34" height="2.1" fill="#ffc700"/>
<rect x="699.76" y="672.9" width="2.34" height="7.2" fill="#bdff42"/>
<rect x="699.76" y="668.4" width="2.34" height="4.5" fill="#ff9100"/>
<rect x="699.76" y="664.8" width="2.34" height="3.6" fill="#ff9100"/>
<rect x="699.76" y="662" width="2.34" height="2.8" fill="#bdff42"/>
<rect x="702.09" y="662" width="2.34" height="2.8" fill="#35ffca"/>
<rect x="704.43" y="668.4" width="2.34" height="4.5" fill="#bdff42"/>
<rect x="704.43" y="664.8" width="2.34" height="3.6" fill="#ff4c00"/>
<rect x="704.43" y="662" width="2.34" height="2.8" fill="#ff4c00"/>
<rect x="704.43" y="659.9" width="2.34" height="2.1" fill="#bdff42"/>
<rect x="704.43" y="657.8" width="2.34" height="2.1" fill="#bdff42"/>
<rect x="704.43" y="656" width="2.34" height="1.8" fill="#35ffca"/>
<rect x="706.77" y="662" width="2.34" height="2.8" fill="#fffd00"/>
<rect x="706.77" y="659.9" width="2.34" height="2.1" fill="#ffc700"/>
<rect x="706.77" y="657.8" width="2.34" height="2.1" fill="#ffc700"/>
<rect x="706.77" y="656" width="2.34" height="1.8" fill="#fffd00"/>
<rect x="706.77" y="654.4" width="2.34" height="1.6" fill="#bdff42"/>
<rect x="709.1" y="659.9" width="2.34" height="2.1" fill="#79ff86"/>
<rect x="709.1" y="657.8" width="2.34" height="2.1" fill="#79ff86"/>
<rect x="713.78" y="656" width="2.34" height="1.8" fill="#79ff86"/>
<rect x="713.78" y="654.4" width="2.34" height="1.6" fill="#bdff42"/>
<rect x="713.78" y="653" width="2.34" height="1.4" fill="#bdff42"/>
<rect x="713.78" y="651.8" width="2.34" height="1.2" fill="#00fdff"/>
<rect x="730.13" y="668.4" width="2.34" height="4.5" fill="#bdff42"/>
<rect x="730.13" y="664.8" width="2.34" height="3.6" fill="#ff9100"/>
<rect x="730.13" y="662" width="2.34" height="2.8" fill="#fffd00"/>
<rect x="730.13" y="659.9" width="2.34" height="2.1" fill="#bdff42"/>
<rect x="732.47" y="664.8" width="2.34" height="3.6" fill="#ff9100"/>
<rect x="732.47" y="662" width="2.34" height="2.8" fill="#ff4c00"/>
<rect x="732.47" y="659.9" width="2.34" height="2.1" fill="#ff4c00"/>
<rect x="732.47" y="657.8" width="2.34" height="2.1" fill="#ff4c00"/>
<rect x="732.47" y="656" width="2.34" height="1.8" fill="#ff4c00"/>
<rect x="732.47" y="654.4" width="2.34" height="1.6" fill="#ffc700"/>
<rect x="732.47" y="653" width="2.34" height="1.4" fill="#79ff86"/>
<rect x="734.81" y="668.4" width="2.34" height="4.5" fill="#ff4c00"/>
<rect x="734.81" y="664.8" width="2.34" height="3.6" fill="#ff0800"/>
<rect x="734.81" y="662" width="2.34" height="2.8" fill="#ff4c00"/>
<rect x="734.81" y="659.9" width="2.34" height="2.1" fill="#ffc700"/>
<rect x="734.81" y="657.8" width="2.34" height="2.1" fill="#79ff86"/>
<rect x="737.14" y="668.4" width="2.34" height="4.5" fill="#ff9100"/>
<rect x="737.14" y="664.8" width="2.34" height="3.6" fill="#ff0800"/>
<rect x="737.14" y="662" width="2.34" height="2.8" fill="#ff9100"/>
<rect x="737.14" y="659.9" width="2.34" height="2.1" fill="#fffd00"/>
<rect x="737.14" y="657.8" width="2.34" height="2.1" fill="#fffd00"/>
<rect x="737.14" y="656" width="2.34" height="1.8" fill="#79ff86"/>
<rect x="739.48" y="672.9" width="2.34" height="7.2" fill="#bdff42"/>
<rect x="739.48" y="668.4" width="2.34" height="4.5" fill="#ff9100"/>
<rect x="739.48" y="664.8" width="2.34" height="3.6" fill="#ff0800"/>
<rect x="739.48" y="662" width="2.34" height="2.8" fill="#ff0800"/>
<rect x="739.48" y="659.9" width="2.34" height="2.1" fill="#ff4c00"/>
<rect x="739.48" y="657.8" width="2.34" height="2.1" fill="#fffd00"/>
<rect x="741.82" y="668.4" width="2.34" height="4.5" fill="#ffc700"/>
<rect x="741.82" y="664.8" width="2.34" height="3.6" fill="#ff4c00"/>
<rect x="741.82" y="662" width="2.34" height="2.8" fill="#ff4c00"/>
<rect x="741.82" y="659.9" width="2.34" height="2.1" fill="#79ff86"/>
<rect x="746.49" y="662" width="2.34" height="2.8" fill="#bdff42"/>
<rect x="746.49" y="659.9" width="2.34" height="2.1" fill="#ff9100"/>
<rect x="746.49" y="657.8" width="2.34" height="2.1" fill="#ffc700"/>
<rect x="746.49" y="656" width="2.34" height="1.8" fill="#bdff42"/>
<rect x="746.49" y="654.4" width="2.34" height="1.6" fill="#79ff86"/>
<rect x="842.3" y="664.8" width="2.34" height="3.6" fill="#ffc700"/>
<rect x="842.3" y="662" width="2.34" height="2.8" fill="#ff4c00"/>
<rect x="842.3" y="659.9" width="2.34" height="2.1" fill="#ff4c00"/>
<rect x="842.3" y="657.8" width="2.34" height="2.1" fill="#ffc700"/>
<rect x="842.3" y="656" width="2.34" height="1.8" fill="#79ff86"/>
<rect x="844.63" y="668.4" width="2.34" height="4.5" fill="#79ff86"/>
<rect x="844.63" y="664.8" width="2.34" height="3.6" fill="#ff4c00"/>
<rect x="844.63" y="662" width="2.34" height="2.8" fill="#ff4c00"/>
<rect x="844.63" y="659.9" width="2.34" height="2.1" fill="#ff4c00"/>
<rect x="844.63" y="657.8" width="2.34" height="2.1" fill="#bdff42"/>
<rect x="846.97" y="668.4" width="2.34" height="4.5" fill="#bdff42"/>
<rect x="846.97" y="664.8" width="2.34" height="3.6" fill="#ff9100"/>
<rect x="846.97" y="662" width="2.34" height="2.8" fill="#ff9100"/>
<rect x="846.97" y="659.9" width="2.34" height="2.1" fill="#ffc700"/>
<rect x="846.97" y="657.8" width="2.34" height="2.1" fill="#79ff86"/>
<rect x="849.31" y="668.4" width="2.34" height="4.5" fill="#bdff42"/>
<rect x="849.31" y="664.8" width="2.34" height="3.6" fill="#ff4c00"/>
<rect x="849.31" y="662" width="2.34" height="2.8" fill="#ff0800"/>
<rect x="849.31" y="659.9" width="2.34" height="2.1" fill="#ff4c00"/>
<rect x="849.31" y="657.8" width="2.34" height="2.1" fill="#fffd00"/>
<rect x="849.31" y="656" width="2.34" height="1.8" fill="#79ff86"/>
<rect x="851.64" y="668.4" width="2.34" height="4.5" fill="#fffd00"/>
<rect x="851.64" y="664.8" width="2.34" height="3.6" fill="#ff0800"/>
<rect x="851.64" y="662" width="2.34" height="2.8" fill="#ff0800"/>
<rect x="851.64" y="659.9" width="2.34" height="2.1" fill="#ff0800"/>
<rect x="851.64" y="657.8" width="2.34" height="2.1" fill="#ff9100"/>
<rect x="851.64" y="656" width="2.34" height="1.8" fill="#bdff42"/>
<rect x="851.64" y="654.4" width="2.34" height="1.6" fill="#00fdff"/>
<rect x="853.98" y="662" width="2.34" height="2.8" fill="#ff0800"/>
<rect x="853.98" y="659.9" width="2.34" height="2.1" fill="#ff0800"/>
<rect x="853.98" y="657.8" width="2.34" height="2.1" fill="#ff9100"/>
<rect x="853.98" y="656" width="2.34" height="1.8" fill="#fffd00"/>
<rect x="853.98" y="654.4" width="2.34" height="1.6" fill="#bdff42"/>
<rect x="853.98" y="653" width="2.34" height="1.4" fill="#bdff42"/>
<rect x="856.32" y="659.9" width="2.34" height="2.1" fill="#79ff86"/>
<rect x="856.32" y="657.8" width="2.34" height="2.1" fill="#79ff86"/>
<rect x="858.65" y="662" width="2.34" height="2.8" fill="#35ffca"/>
<rect x="858.65" y="659.9" width="2.34" height="2.1" fill="#fffd00"/>
<rect x="858.65" y="657.8" width="2.34" height="2.1" fill="#ffc700"/>
<rect x="858.65" y="656" width="2.34" height="1.8" fill="#ffc700"/>
<rect x="858.65" y="654.4" width="2.34" height="1.6" fill="#bdff42"/>
<rect x="858.65" y="653" width="2.34" height="1.4" fill="#79ff86"/>
<rect x="666.8" y="609.8" width="3.3" height="1.45" fill="#009eff"/>
</g>
<g shape-rendering="crispEdges">
<rect x="874" y="59" width="22" height="119" fill="url(#jet)"/>
<rect x="874" y="227" width="22" height="119" fill="url(#jet)"/>
<rect x="874" y="395" width="22" height="119" fill="url(#jet)"/>
<rect x="874" y="563" width="22" height="120" fill="url(#jet)"/>
</g>
<g shape-rendering="crispEdges" fill="#262626">
<rect x="133" y="58" width="733" height="1"/>
<rect x="133" y="178" width="733" height="1"/>
<rect x="133" y="58" width="1" height="121"/>
<rect x="865" y="58" width="1" height="121"/>
<rect x="133" y="50" width="1" height="8"/>
<rect x="133" y="179" width="1" height="8"/>
<rect x="249" y="50" width="1" height="8"/>
<rect x="249" y="179" width="1" height="8"/>
<rect x="366" y="50" width="1" height="8"/>
<rect x="366" y="179" width="1" height="8"/>
<rect x="483" y="50" width="1" height="8"/>
<rect x="483" y="179" width="1" height="8"/>
<rect x="600" y="50" width="1" height="8"/>
<rect x="600" y="179" width="1" height="8"/>
<rect x="717" y="50" width="1" height="8"/>
<rect x="717" y="179" width="1" height="8"/>
<rect x="834" y="50" width="1" height="8"/>
<rect x="834" y="179" width="1" height="8"/>
<rect x="129" y="58" width="4" height="1"/>
<rect x="866" y="58" width="4" height="1"/>
<rect x="129" y="61" width="4" height="1"/>
<rect x="866" y="61" width="4" height="1"/>
<rect x="129" y="67" width="4" height="1"/>
<rect x="866" y="67" width="4" height="1"/>
<rect x="125" y="77" width="8" height="1"/>
<rect x="866" y="77" width="8" height="1"/>
<rect x="129" y="78" width="4" height="1"/>
<rect x="866" y="78" width="4" height="1"/>
<rect x="129" y="80" width="4" height="1"/>
<rect x="866" y="80" width="4" height="1"/>
<rect x="129" y="81" width="4" height="1"/>
<rect x="866" y="81" width="4" height="1"/>
<rect x="129" y="84" width="4" height="1"/>
<rect x="866" y="84" width="4" height="1"/>
<rect x="129" y="86" width="4" height="1"/>
<rect x="866" y="86" width="4" height="1"/>
<rect x="129" y="89" width="4" height="1"/>
<rect x="866" y="89" width="4" height="1"/>
<rect x="129" y="93" width="4" height="1"/>
<rect x="866" y="93" width="4" height="1"/>
<rect x="129" y="99" width="4" height="1"/>
<rect x="866" y="99" width="4" height="1"/>
<rect x="125" y="108" width="8" height="1"/>
<rect x="866" y="108" width="8" height="1"/>
<rect x="129" y="110" width="4" height="1"/>
<rect x="866" y="110" width="4" height="1"/>
<rect x="129" y="111" width="4" height="1"/>
<rect x="866" y="111" width="4" height="1"/>
<rect x="129" y="113" width="4" height="1"/>
<rect x="866" y="113" width="4" height="1"/>
<rect x="129" y="115" width="4" height="1"/>
<rect x="866" y="115" width="4" height="1"/>
<rect x="129" y="118" width="4" height="1"/>
<rect x="866" y="118" width="4" height="1"/>
<rect x="129" y="121" width="4" height="1"/>
<rect x="866" y="121" width="4" height="1"/>
<rect x="129" y="125" width="4" height="1"/>
<rect x="866" y="125" width="4" height="1"/>
<rect x="129" y="130" width="4" height="1"/>
<rect x="866" y="130" width="4" height="1"/>
<rect x="125" y="140" width="8" height="1"/>
<rect x="866" y="140" width="8" height="1"/>
<rect x="129" y="141" width="4" height="1"/>
<rect x="866" y="141" width="4" height="1"/>
<rect x="129" y="143" width="4" height="1"/>
<rect x="866" y="143" width="4" height="1"/>
<rect x="129" y="145" width="4" height="1"/>
<rect x="866" y="145" width="4" height="1"/>
<rect x="129" y="147" width="4" height="1"/>
<rect x="866" y="147" width="4" height="1"/>
<rect x="129" y="149" width="4" height="1"/>
<rect x="866" y="149" width="4" height="1"/>
<rect x="129" y="152" width="4" height="1"/>
<rect x="866" y="152" width="4" height="1"/>
<rect x="129" y="156" width="4" height="1"/>
<rect x="866" y="156" width="4" height="1"/>
<rect x="129" y="162" width="4" height="1"/>
<rect x="866" y="162" width="4" height="1"/>
<rect x="125" y="171" width="8" height="1"/>
<rect x="866" y="171" width="8" height="1"/>
<rect x="129" y="173" width="4" height="1"/>
<rect x="866" y="173" width="4" height="1"/>
<rect x="129" y="175" width="4" height="1"/>
<rect x="866" y="175" width="4" height="1"/>
<rect x="129" y="176" width="4" height="1"/>
<rect x="866" y="176" width="4" height="1"/>
<rect x="129" y="178" width="4" height="1"/>
<rect x="866" y="178" width="4" height="1"/>
<rect x="873" y="58" width="24" height="1"/>
<rect x="873" y="178" width="24" height="1"/>
<rect x="873" y="58" width="1" height="121"/>
<rect x="896" y="58" width="1" height="121"/>
<rect x="895" y="146" width="1" height="1"/>
<rect x="895" y="114" width="1" height="1"/>
<rect x="895" y="82" width="1" height="1"/>
<rect x="133" y="226" width="733" height="1"/>
<rect x="133" y="346" width="733" height="1"/>
<rect x="133" y="226" width="1" height="121"/>
<rect x="865" y="226" width="1" height="121"/>
<rect x="133" y="218" width="1" height="8"/>
<rect x="133" y="347" width="1" height="8"/>
<rect x="249" y="218" width="1" height="8"/>
<rect x="249" y="347" width="1" height="8"/>
<rect x="366" y="218" width="1" height="8"/>
<rect x="366" y="347" width="1" height="8"/>
<rect x="483" y="218" width="1" height="8"/>
<rect x="483" y="347" width="1" height="8"/>
<rect x="600" y="218" width="1" height="8"/>
<rect x="600" y="347" width="1" height="8"/>
<rect x="717" y="218" width="1" height="8"/>
<rect x="717" y="347" width="1" height="8"/>
<rect x="834" y="218" width="1" height="8"/>
<rect x="834" y="347" width="1" height="8"/>
<rect x="129" y="226" width="4" height="1"/>
<rect x="866" y="226" width="4" height="1"/>
<rect x="129" y="229" width="4" height="1"/>
<rect x="866" y="229" width="4" height="1"/>
<rect x="129" y="235" width="4" height="1"/>
<rect x="866" y="235" width="4" height="1"/>
<rect x="125" y="245" width="8" height="1"/>
<rect x="866" y="245" width="8" height="1"/>
<rect x="129" y="246" width="4" height="1"/>
<rect x="866" y="246" width="4" height="1"/>
<rect x="129" y="248" width="4" height="1"/>
<rect x="866" y="248" width="4" height="1"/>
<rect x="129" y="249" width="4" height="1"/>
<rect x="866" y="249" width="4" height="1"/>
<rect x="129" y="252" width="4" height="1"/>
<rect x="866" y="252" width="4" height="1"/>
<rect x="129" y="254" width="4" height="1"/>
<rect x="866" y="254" width="4" height="1"/>
<rect x="129" y="257" width="4" height="1"/>
<rect x="866" y="257" width="4" height="1"/>
<rect x="129" y="261" width="4" height="1"/>
<rect x="866" y="261" width="4" height="1"/>
<rect x="129" y="267" width="4" height="1"/>
<rect x="866" y="267" width="4" height="1"/>
<rect x="125" y="276" width="8" height="1"/>
<rect x="866" y="276" width="8" height="1"/>
<rect x="129" y="278" width="4" height="1"/>
<rect x="866" y="278" width="4" height="1"/>
<rect x="129" y="279" width="4" height="1"/>
<rect x="866" y="279" width="4" height="1"/>
<rect x="129" y="281" width="4" height="1"/>
<rect x="866" y="281" width="4" height="1"/>
<rect x="129" y="283" width="4" height="1"/>
<rect x="866" y="283" width="4" height="1"/>
<rect x="129" y="286" width="4" height="1"/>
<rect x="866" y="286" width="4" height="1"/>
<rect x="129" y="289" width="4" height="1"/>
<rect x="866" y="289" width="4" height="1"/>
<rect x="129" y="293" width="4" height="1"/>
<rect x="866" y="293" width="4" height="1"/>
<rect x="129" y="298" width="4" height="1"/>
<rect x="866" y="298" width="4" height="1"/>
<rect x="125" y="308" width="8" height="1"/>
<rect x="866" y="308" width="8" height="1"/>
<rect x="129" y="309" width="4" height="1"/>
<rect x="866" y="309" width="4" height="1"/>
<rect x="129" y="311" width="4" height="1"/>
<rect x="866" y="311" width="4" height="1"/>
<rect x="129" y="313" width="4" height="1"/>
<rect x="866" y="313" width="4" height="1"/>
<rect x="129" y="315" width="4" height="1"/>
<rect x="866" y="315" width="4" height="1"/>
<rect x="129" y="317" width="4" height="1"/>
<rect x="866" y="317" width="4" height="1"/>
<rect x="129" y="320" width="4" height="1"/>
<rect x="866" y="320" width="4" height="1"/>
<rect x="129" y="324" width="4" height="1"/>
<rect x="866" y="324" width="4" height="1"/>
<rect x="129" y="330" width="4" height="1"/>
<rect x="866" y="330" width="4" height="1"/>
<rect x="125" y="339" width="8" height="1"/>
<rect x="866" y="339" width="8" height="1"/>
<rect x="129" y="341" width="4" height="1"/>
<rect x="866" y="341" width="4" height="1"/>
<rect x="129" y="343" width="4" height="1"/>
<rect x="866" y="343" width="4" height="1"/>
<rect x="129" y="344" width="4" height="1"/>
<rect x="866" y="344" width="4" height="1"/>
<rect x="129" y="346" width="4" height="1"/>
<rect x="866" y="346" width="4" height="1"/>
<rect x="873" y="226" width="24" height="1"/>
<rect x="873" y="346" width="24" height="1"/>
<rect x="873" y="226" width="1" height="121"/>
<rect x="896" y="226" width="1" height="121"/>
<rect x="895" y="314" width="1" height="1"/>
<rect x="895" y="282" width="1" height="1"/>
<rect x="895" y="250" width="1" height="1"/>
<rect x="133" y="394" width="733" height="1"/>
<rect x="133" y="514" width="733" height="1"/>
<rect x="133" y="394" width="1" height="121"/>
<rect x="865" y="394" width="1" height="121"/>
<rect x="133" y="386" width="1" height="8"/>
<rect x="133" y="515" width="1" height="8"/>
<rect x="249" y="386" width="1" height="8"/>
<rect x="249" y="515" width="1" height="8"/>
<rect x="366" y="386" width="1" height="8"/>
<rect x="366" y="515" width="1" height="8"/>
<rect x="483" y="386" width="1" height="8"/>
<rect x="483" y="515" width="1" height="8"/>
<rect x="600" y="386" width="1" height="8"/>
<rect x="600" y="515" width="1" height="8"/>
<rect x="717" y="386" width="1" height="8"/>
<rect x="717" y="515" width="1" height="8"/>
<rect x="834" y="386" width="1" height="8"/>
<rect x="834" y="515" width="1" height="8"/>
<rect x="129" y="394" width="4" height="1"/>
<rect x="866" y="394" width="4" height="1"/>
<rect x="129" y="397" width="4" height="1"/>
<rect x="866" y="397" width="4" height="1"/>
<rect x="129" y="403" width="4" height="1"/>
<rect x="866" y="403" width="4" height="1"/>
<rect x="125" y="413" width="8" height="1"/>
<rect x="866" y="413" width="8" height="1"/>
<rect x="129" y="414" width="4" height="1"/>
<rect x="866" y="414" width="4" height="1"/>
<rect x="129" y="416" width="4" height="1"/>
<rect x="866" y="416" width="4" height="1"/>
<rect x="129" y="417" width="4" height="1"/>
<rect x="866" y="417" width="4" height="1"/>
<rect x="129" y="420" width="4" height="1"/>
<rect x="866" y="420" width="4" height="1"/>
<rect x="129" y="422" width="4" height="1"/>
<rect x="866" y="422" width="4" height="1"/>
<rect x="129" y="425" width="4" height="1"/>
<rect x="866" y="425" width="4" height="1"/>
<rect x="129" y="429" width="4" height="1"/>
<rect x="866" y="429" width="4" height="1"/>
<rect x="129" y="435" width="4" height="1"/>
<rect x="866" y="435" width="4" height="1"/>
<rect x="125" y="444" width="8" height="1"/>
<rect x="866" y="444" width="8" height="1"/>
<rect x="129" y="446" width="4" height="1"/>
<rect x="866" y="446" width="4" height="1"/>
<rect x="129" y="447" width="4" height="1"/>
<rect x="866" y="447" width="4" height="1"/>
<rect x="129" y="449" width="4" height="1"/>
<rect x="866" y="449" width="4" height="1"/>
<rect x="129" y="451" width="4" height="1"/>
<rect x="866" y="451" width="4" height="1"/>
<rect x="129" y="454" width="4" height="1"/>
<rect x="866" y="454" width="4" height="1"/>
<rect x="129" y="457" width="4" height="1"/>
<rect x="866" y="457" width="4" height="1"/>
<rect x="129" y="461" width="4" height="1"/>
<rect x="866" y="461" width="4" height="1"/>
<rect x="129" y="466" width="4" height="1"/>
<rect x="866" y="466" width="4" height="1"/>
<rect x="125" y="476" width="8" height="1"/>
<rect x="866" y="476" width="8" height="1"/>
<rect x="129" y="477" width="4" height="1"/>
<rect x="866" y="477" width="4" height="1"/>
<rect x="129" y="479" width="4" height="1"/>
<rect x="866" y="479" width="4" height="1"/>
<rect x="129" y="481" width="4" height="1"/>
<rect x="866" y="481" width="4" height="1"/>
<rect x="129" y="483" width="4" height="1"/>
<rect x="866" y="483" width="4" height="1"/>
<rect x="129" y="485" width="4" height="1"/>
<rect x="866" y="485" width="4" height="1"/>
<rect x="129" y="488" width="4" height="1"/>
<rect x="866" y="488" width="4" height="1"/>
<rect x="129" y="492" width="4" height="1"/>
<rect x="866" y="492" width="4" height="1"/>
<rect x="129" y="498" width="4" height="1"/>
<rect x="866" y="498" width="4" height="1"/>
<rect x="125" y="507" width="8" height="1"/>
<rect x="866" y="507" width="8" height="1"/>
<rect x="129" y="509" width="4" height="1"/>
<rect x="866" y="509" width="4" height="1"/>
<rect x="129" y="511" width="4" height="1"/>
<rect x="866" y="511" width="4" height="1"/>
<rect x="129" y="512" width="4" height="1"/>
<rect x="866" y="512" width="4" height="1"/>
<rect x="129" y="514" width="4" height="1"/>
<rect x="866" y="514" width="4" height="1"/>
<rect x="873" y="394" width="24" height="1"/>
<rect x="873" y="514" width="24" height="1"/>
<rect x="873" y="394" width="1" height="121"/>
<rect x="896" y="394" width="1" height="121"/>
<rect x="895" y="482" width="1" height="1"/>
<rect x="895" y="450" width="1" height="1"/>
<rect x="895" y="418" width="1" height="1"/>
<rect x="133" y="562" width="733" height="1"/>
<rect x="133" y="683" width="733" height="1"/>
<rect x="133" y="562" width="1" height="122"/>
<rect x="865" y="562" width="1" height="122"/>
<rect x="133" y="554" width="1" height="8"/>
<rect x="133" y="684" width="1" height="8"/>
<rect x="249" y="554" width="1" height="8"/>
<rect x="249" y="684" width="1" height="8"/>
<rect x="366" y="554" width="1" height="8"/>
<rect x="366" y="684" width="1" height="8"/>
<rect x="483" y="554" width="1" height="8"/>
<rect x="483" y="684" width="1" height="8"/>
<rect x="600" y="554" width="1" height="8"/>
<rect x="600" y="684" width="1" height="8"/>
<rect x="717" y="554" width="1" height="8"/>
<rect x="717" y="684" width="1" height="8"/>
<rect x="834" y="554" width="1" height="8"/>
<rect x="834" y="684" width="1" height="8"/>
<rect x="129" y="562" width="4" height="1"/>
<rect x="866" y="562" width="4" height="1"/>
<rect x="129" y="565" width="4" height="1"/>
<rect x="866" y="565" width="4" height="1"/>
<rect x="129" y="571" width="4" height="1"/>
<rect x="866" y="571" width="4" height="1"/>
<rect x="125" y="581" width="8" height="1"/>
<rect x="866" y="581" width="8" height="1"/>
<rect x="129" y="582" width="4" height="1"/>
<rect x="866" y="582" width="4" height="1"/>
<rect x="129" y="584" width="4" height="1"/>
<rect x="866" y="584" width="4" height="1"/>
<rect x="129" y="586" width="4" height="1"/>
<rect x="866" y="586" width="4" height="1"/>
<rect x="129" y="588" width="4" height="1"/>
<rect x="866" y="588" width="4" height="1"/>
<rect x="129" y="590" width="4" height="1"/>
<rect x="866" y="590" width="4" height="1"/>
<rect x="129" y="593" width="4" height="1"/>
<rect x="866" y="593" width="4" height="1"/>
<rect x="129" y="597" width="4" height="1"/>
<rect x="866" y="597" width="4" height="1"/>
<rect x="129" y="603" width="4" height="1"/>
<rect x="866" y="603" width="4" height="1"/>
<rect x="125" y="613" width="8" height="1"/>
<rect x="866" y="613" width="8" height="1"/>
<rect x="129" y="614" width="4" height="1"/>
<rect x="866" y="614" width="4" height="1"/>
<rect x="129" y="616" width="4" height="1"/>
<rect x="866" y="616" width="4" height="1"/>
<rect x="129" y="618" width="4" height="1"/>
<rect x="866" y="618" width="4" height="1"/>
<rect x="129" y="620" width="4" height="1"/>
<rect x="866" y="620" width="4" height="1"/>
<rect x="129" y="622" width="4" height="1"/>
<rect x="866" y="622" width="4" height="1"/>
<rect x="129" y="625" width="4" height="1"/>
<rect x="866" y="625" width="4" height="1"/>
<rect x="129" y="629" width="4" height="1"/>
<rect x="866" y="629" width="4" height="1"/>
<rect x="129" y="635" width="4" height="1"/>
<rect x="866" y="635" width="4" height="1"/>
<rect x="125" y="645" width="8" height="1"/>
<rect x="866" y="645" width="8" height="1"/>
<rect x="129" y="646" width="4" height="1"/>
<rect x="866" y="646" width="4" height="1"/>
<rect x="129" y="648" width="4" height="1"/>
<rect x="866" y="648" width="4" height="1"/>
<rect x="129" y="649" width="4" height="1"/>
<rect x="866" y="649" width="4" height="1"/>
<rect x="129" y="652" width="4" height="1"/>
<rect x="866" y="652" width="4" height="1"/>
<rect x="129" y="654" width="4" height="1"/>
<rect x="866" y="654" width="4" height="1"/>
<rect x="129" y="657" width="4" height="1"/>
<rect x="866" y="657" width="4" height="1"/>
<rect x="129" y="661" width="4" height="1"/>
<rect x="866" y="661" width="4" height="1"/>
<rect x="129" y="667" width="4" height="1"/>
<rect x="866" y="667" width="4" height="1"/>
<rect x="125" y="676" width="8" height="1"/>
<rect x="866" y="676" width="8" height="1"/>
<rect x="129" y="678" width="4" height="1"/>
<rect x="866" y="678" width="4" height="1"/>
<rect x="129" y="680" width="4" height="1"/>
<rect x="866" y="680" width="4" height="1"/>
<rect x="129" y="681" width="4" height="1"/>
<rect x="866" y="681" width="4" height="1"/>
<rect x="129" y="683" width="4" height="1"/>
<rect x="866" y="683" width="4" height="1"/>
<rect x="873" y="562" width="24" height="1"/>
<rect x="873" y="683" width="24" height="1"/>
<rect x="873" y="562" width="1" height="122"/>
<rect x="896" y="562" width="1" height="122"/>
<rect x="895" y="651" width="1" height="1"/>
<rect x="895" y="618" width="1" height="1"/>
<rect x="895" y="586" width="1" height="1"/>
</g>
<g>
<text x="89.9" y="83" font-size="18" text-anchor="middle" fill="#262626">10000</text>
<text x="89.9" y="114.7" font-size="18" text-anchor="middle" fill="#262626">1000</text>
<text x="89.9" y="146.1" font-size="18" text-anchor="middle" fill="#262626">100</text>
<text x="89.9" y="177.9" font-size="18" text-anchor="middle" fill="#262626">10</text>
<text x="133" y="210" font-size="18" text-anchor="middle" fill="#262626">19:00</text>
<text x="249.83" y="210" font-size="18" text-anchor="middle" fill="#262626">19:10</text>
<text x="366.67" y="210" font-size="18" text-anchor="middle" fill="#262626">19:20</text>
<text x="483.5" y="210" font-size="18" text-anchor="middle" fill="#262626">19:30</text>
<text x="600.33" y="210" font-size="18" text-anchor="middle" fill="#262626">19:40</text>
<text x="717.16" y="210" font-size="18" text-anchor="middle" fill="#262626">19:50</text>
<text x="834" y="210" font-size="18" text-anchor="middle" fill="#262626">20:00</text>
<text x="902.9" y="185.2" font-size="18" text-anchor="start" fill="#262626">0</text>
<text x="902.9" y="153" font-size="18" text-anchor="start" fill="#262626">2</text>
<text x="902.9" y="120" font-size="18" text-anchor="start" fill="#262626">4</text>
<text x="902.9" y="88" font-size="18" text-anchor="start" fill="#262626">6</text>
<text x="884.8" y="47" font-size="18" text-anchor="middle" fill="#000">Flux</text>
<text transform="translate(943.1 118.5) rotate(-90)" font-size="18" letter-spacing="0.24" text-anchor="middle" fill="#262626">eV<tspan dy="-9.1" font-size="14.4">-1</tspan><tspan dy="9.1">cm</tspan><tspan dy="-9.1" font-size="14.4">-2</tspan><tspan dy="9.1">sr</tspan><tspan dy="-9.1" font-size="14.4">-1</tspan><tspan dy="9.1">s</tspan><tspan dy="-9.1" font-size="14.4">-1</tspan></text>
<text transform="translate(52 118.5) rotate(-89.97) scale(1 1.0392)" font-size="19.8" letter-spacing="0.15" text-anchor="middle" fill="#262626">Energy (eV)</text>
<text transform="translate(28 118.8) rotate(-89.97) scale(1 1.0392)" font-size="19.8" letter-spacing="0" text-anchor="middle" fill="#262626">H<tspan dy="-8.7" font-size="15.84">+</tspan></text>
<text x="89.9" y="251" font-size="18" text-anchor="middle" fill="#262626">10000</text>
<text x="89.9" y="282.7" font-size="18" text-anchor="middle" fill="#262626">1000</text>
<text x="89.9" y="314.1" font-size="18" text-anchor="middle" fill="#262626">100</text>
<text x="89.9" y="345.9" font-size="18" text-anchor="middle" fill="#262626">10</text>
<text x="133" y="378" font-size="18" text-anchor="middle" fill="#262626">19:00</text>
<text x="249.83" y="378" font-size="18" text-anchor="middle" fill="#262626">19:10</text>
<text x="366.67" y="378" font-size="18" text-anchor="middle" fill="#262626">19:20</text>
<text x="483.5" y="378" font-size="18" text-anchor="middle" fill="#262626">19:30</text>
<text x="600.33" y="378" font-size="18" text-anchor="middle" fill="#262626">19:40</text>
<text x="717.16" y="378" font-size="18" text-anchor="middle" fill="#262626">19:50</text>
<text x="834" y="378" font-size="18" text-anchor="middle" fill="#262626">20:00</text>
<text x="902.9" y="353.2" font-size="18" text-anchor="start" fill="#262626">0</text>
<text x="902.9" y="321" font-size="18" text-anchor="start" fill="#262626">2</text>
<text x="902.9" y="288" font-size="18" text-anchor="start" fill="#262626">4</text>
<text x="902.9" y="256" font-size="18" text-anchor="start" fill="#262626">6</text>
<text x="884.8" y="215" font-size="18" text-anchor="middle" fill="#000">Flux</text>
<text transform="translate(943.1 286.5) rotate(-90)" font-size="18" letter-spacing="0.24" text-anchor="middle" fill="#262626">eV<tspan dy="-9.1" font-size="14.4">-1</tspan><tspan dy="9.1">cm</tspan><tspan dy="-9.1" font-size="14.4">-2</tspan><tspan dy="9.1">sr</tspan><tspan dy="-9.1" font-size="14.4">-1</tspan><tspan dy="9.1">s</tspan><tspan dy="-9.1" font-size="14.4">-1</tspan></text>
<text transform="translate(52 286.5) rotate(-89.97) scale(1 1.0392)" font-size="19.8" letter-spacing="0.15" text-anchor="middle" fill="#262626">Energy (eV)</text>
<text transform="translate(28 286.5) rotate(-89.97) scale(1 1.0392)" font-size="19.8" letter-spacing="0.5" text-anchor="middle" fill="#262626">He<tspan dy="-8.7" font-size="15.84">+</tspan></text>
<text x="89.9" y="419" font-size="18" text-anchor="middle" fill="#262626">10000</text>
<text x="89.9" y="450.7" font-size="18" text-anchor="middle" fill="#262626">1000</text>
<text x="89.9" y="482.1" font-size="18" text-anchor="middle" fill="#262626">100</text>
<text x="89.9" y="513.9" font-size="18" text-anchor="middle" fill="#262626">10</text>
<text x="133" y="546" font-size="18" text-anchor="middle" fill="#262626">19:00</text>
<text x="249.83" y="546" font-size="18" text-anchor="middle" fill="#262626">19:10</text>
<text x="366.67" y="546" font-size="18" text-anchor="middle" fill="#262626">19:20</text>
<text x="483.5" y="546" font-size="18" text-anchor="middle" fill="#262626">19:30</text>
<text x="600.33" y="546" font-size="18" text-anchor="middle" fill="#262626">19:40</text>
<text x="717.16" y="546" font-size="18" text-anchor="middle" fill="#262626">19:50</text>
<text x="834" y="546" font-size="18" text-anchor="middle" fill="#262626">20:00</text>
<text x="902.9" y="521.2" font-size="18" text-anchor="start" fill="#262626">0</text>
<text x="902.9" y="489" font-size="18" text-anchor="start" fill="#262626">2</text>
<text x="902.9" y="456" font-size="18" text-anchor="start" fill="#262626">4</text>
<text x="902.9" y="424" font-size="18" text-anchor="start" fill="#262626">6</text>
<text x="884.8" y="383" font-size="18" text-anchor="middle" fill="#000">Flux</text>
<text transform="translate(943.1 454.5) rotate(-90)" font-size="18" letter-spacing="0.24" text-anchor="middle" fill="#262626">eV<tspan dy="-9.1" font-size="14.4">-1</tspan><tspan dy="9.1">cm</tspan><tspan dy="-9.1" font-size="14.4">-2</tspan><tspan dy="9.1">sr</tspan><tspan dy="-9.1" font-size="14.4">-1</tspan><tspan dy="9.1">s</tspan><tspan dy="-9.1" font-size="14.4">-1</tspan></text>
<text transform="translate(52 454.5) rotate(-89.97) scale(1 1.0392)" font-size="19.8" letter-spacing="0.15" text-anchor="middle" fill="#262626">Energy (eV)</text>
<text transform="translate(28 454.5) rotate(-89.97) scale(1 1.0392)" font-size="19.8" letter-spacing="0.4" text-anchor="middle" fill="#262626">He<tspan dy="-8.7" font-size="15.84">2+</tspan></text>
<text x="89.9" y="587" font-size="18" text-anchor="middle" fill="#262626">10000</text>
<text x="89.9" y="618.7" font-size="18" text-anchor="middle" fill="#262626">1000</text>
<text x="89.9" y="651" font-size="18" text-anchor="middle" fill="#262626">100</text>
<text x="89.9" y="682.7" font-size="18" text-anchor="middle" fill="#262626">10</text>
<text x="133" y="715" font-size="18" text-anchor="middle" fill="#262626">19:00</text>
<text x="249.83" y="715" font-size="18" text-anchor="middle" fill="#262626">19:10</text>
<text x="366.67" y="715" font-size="18" text-anchor="middle" fill="#262626">19:20</text>
<text x="483.5" y="715" font-size="18" text-anchor="middle" fill="#262626">19:30</text>
<text x="600.33" y="715" font-size="18" text-anchor="middle" fill="#262626">19:40</text>
<text x="717.16" y="715" font-size="18" text-anchor="middle" fill="#262626">19:50</text>
<text x="834" y="715" font-size="18" text-anchor="middle" fill="#262626">20:00</text>
<text x="902.9" y="690" font-size="18" text-anchor="start" fill="#262626">0</text>
<text x="902.9" y="657" font-size="18" text-anchor="start" fill="#262626">2</text>
<text x="902.9" y="624.8" font-size="18" text-anchor="start" fill="#262626">4</text>
<text x="902.9" y="592" font-size="18" text-anchor="start" fill="#262626">6</text>
<text x="884.8" y="551" font-size="18" text-anchor="middle" fill="#000">Flux</text>
<text transform="translate(943.1 623) rotate(-90)" font-size="18" letter-spacing="0.24" text-anchor="middle" fill="#262626">eV<tspan dy="-9.1" font-size="14.4">-1</tspan><tspan dy="9.1">cm</tspan><tspan dy="-9.1" font-size="14.4">-2</tspan><tspan dy="9.1">sr</tspan><tspan dy="-9.1" font-size="14.4">-1</tspan><tspan dy="9.1">s</tspan><tspan dy="-9.1" font-size="14.4">-1</tspan></text>
<text transform="translate(52 623) rotate(-89.97) scale(1 1.0392)" font-size="19.8" letter-spacing="0.15" text-anchor="middle" fill="#262626">Energy (eV)</text>
<text transform="translate(28 623) rotate(-89.97) scale(1 1.0392)" font-size="19.8" letter-spacing="0" text-anchor="middle" fill="#262626">Comet</text>
<text transform="translate(500.3 49) rotate(0.03) scale(1 1.0392)" font-size="19.8" font-weight="bold" text-anchor="middle" fill="#000">RPCICA141223T19.PNG</text>
<text transform="translate(499.5 740) rotate(0.03) scale(1 1.0392)" font-size="19.8" text-anchor="middle" fill="#262626">Time</text>
</g>
</svg>
</body></html>
